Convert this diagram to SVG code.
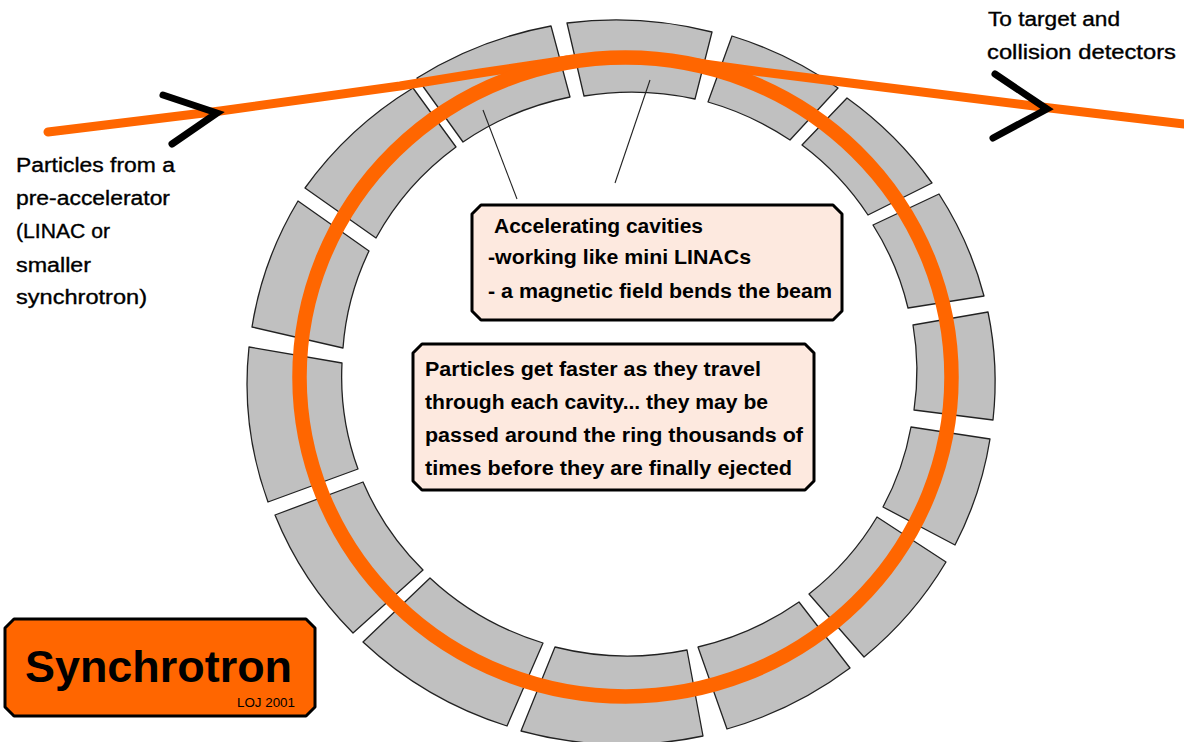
<svg xmlns="http://www.w3.org/2000/svg" width="1184" height="742" viewBox="0 0 1184 742">
<style>
text{font-family:"Liberation Sans",Arial,sans-serif;fill:#000}
.seg{fill:#c0c0c0;stroke:#222;stroke-width:1.3;stroke-linejoin:round}
.beam{fill:none;stroke:#ff6600;stroke-width:9;stroke-linecap:round;stroke-linejoin:round}
.ring{fill:none;stroke:#ff6600;stroke-width:14.5}
.chev{fill:none;stroke:#000;stroke-width:7;stroke-linecap:round;stroke-linejoin:miter}
.lead{stroke:#222;stroke-width:1.1;fill:none}
.box{fill:#fde9df;stroke:#000;stroke-width:3;stroke-linejoin:round}
.b{font-size:20px;font-weight:bold}
.p{font-size:20px;stroke:#000;stroke-width:.35}
</style>
<rect width="1184" height="742" fill="#fff"/>
<g id="cavities">
<path id="cavity-1" class="seg" d="M567 23A374 359 0 0 1 712 32L695 99A287 277 0 0 0 584 96Z"/>
<path id="cavity-2" class="seg" d="M732 36A374 359 0 0 1 838 88L790 140A287 277 0 0 0 708 102Z"/>
<path id="cavity-3" class="seg" d="M847 98A374 359 0 0 1 932 183L868 215A287 277 0 0 0 802 145Z"/>
<path id="cavity-4" class="seg" d="M939 194A374 359 0 0 1 984 296L908 308A287 277 0 0 0 873 225Z"/>
<path id="cavity-5" class="seg" d="M988 312A374 359 0 0 1 993 420L914 410A287 277 0 0 0 913 325Z"/>
<path id="cavity-6" class="seg" d="M990 439A374 359 0 0 1 955 545L883 507A287 277 0 0 0 911 427Z"/>
<path id="cavity-7" class="seg" d="M946 562A374 359 0 0 1 864 657L809 594A287 277 0 0 0 877 517Z"/>
<path id="cavity-8" class="seg" d="M850 668A374 359 0 0 1 727 729L698 647A287 277 0 0 0 799 602Z"/>
<path id="cavity-9" class="seg" d="M703 736A374 359 0 0 1 521 731L555 647A287 277 0 0 0 687 650Z"/>
<path id="cavity-10" class="seg" d="M507 726A374 359 0 0 1 363 642L430 578A287 277 0 0 0 543 643Z"/>
<path id="cavity-11" class="seg" d="M353 633A374 359 0 0 1 275 515L363 482A287 277 0 0 0 423 570Z"/>
<path id="cavity-12" class="seg" d="M268 502A374 359 0 0 1 249 347L342 363A287 277 0 0 0 358 469Z"/>
<path id="cavity-13" class="seg" d="M252 327A374 359 0 0 1 298 201L369 251A287 277 0 0 0 343 348Z"/>
<path id="cavity-14" class="seg" d="M305 188A374 359 0 0 1 413 88L456 147A287 277 0 0 0 376 238Z"/>
<path id="cavity-15" class="seg" d="M417 78A374 359 0 0 1 551 26L570 97A287 277 0 0 0 463 142Z"/>
</g>
<g id="connectors">
<path class="beam" d="M48 132L220 111L400 86L480 73L567 60"/>
<path class="beam" d="M690 62L762 72L850 83L1050 108L1184 124"/>
<ellipse id="beam-ring" class="ring" cx="625.5" cy="377" rx="326" ry="319.5"/>
<path class="chev" d="M163 95L217 113L172 144"/>
<path class="chev" d="M995 74L1047 109L993 138"/>
<path class="lead" d="M483 110L517 199"/>
<path class="lead" d="M650 80L615 183"/>
</g>
<g id="label-source">
<text class="p" x="16" y="172" textLength="159" lengthAdjust="spacingAndGlyphs">Particles from a</text>
<text class="p" x="16" y="205" textLength="154" lengthAdjust="spacingAndGlyphs">pre-accelerator</text>
<text class="p" x="16" y="238" textLength="94" lengthAdjust="spacingAndGlyphs">(LINAC or</text>
<text class="p" x="16" y="272" textLength="75" lengthAdjust="spacingAndGlyphs">smaller</text>
<text class="p" x="16" y="304" textLength="131" lengthAdjust="spacingAndGlyphs">synchrotron)</text>
</g>
<g id="label-target">
<text class="p" x="988" y="26" textLength="132" lengthAdjust="spacingAndGlyphs">To target and</text>
<text class="p" x="987" y="59" textLength="189" lengthAdjust="spacingAndGlyphs">collision detectors</text>
</g>
<g id="box-cavities">
<path class="box" d="M481 205H833L842 214V311L833 320H481L472 311V214Z"/>
<text class="b" x="494" y="233" textLength="209" lengthAdjust="spacingAndGlyphs">Accelerating cavities</text>
<text class="b" x="488" y="264" textLength="263" lengthAdjust="spacingAndGlyphs">-working like mini LINACs</text>
<text class="b" x="488" y="298" textLength="344" lengthAdjust="spacingAndGlyphs">- a magnetic field bends the beam</text>
</g>
<g id="box-particles">
<path class="box" d="M422 344H805L814 353V481L805 490H422L413 481V353Z"/>
<text class="b" x="425" y="376" textLength="336" lengthAdjust="spacingAndGlyphs">Particles get faster as they travel</text>
<text class="b" x="425" y="409" textLength="343" lengthAdjust="spacingAndGlyphs">through each cavity... they may be</text>
<text class="b" x="425" y="442" textLength="378" lengthAdjust="spacingAndGlyphs">passed around the ring thousands of</text>
<text class="b" x="425" y="475" textLength="367" lengthAdjust="spacingAndGlyphs">times before they are finally ejected</text>
</g>
<g id="title">
<path d="M14 619H306L315 628V707L306 716H14L5 707V628Z" fill="#ff6600" stroke="#000" stroke-width="3" stroke-linejoin="round"/>
<text x="25" y="682" font-size="44" font-weight="bold" textLength="267" lengthAdjust="spacingAndGlyphs">Synchrotron</text>
<text x="237" y="707" font-size="13" textLength="58" lengthAdjust="spacingAndGlyphs">LOJ 2001</text>
</g>
</svg>
